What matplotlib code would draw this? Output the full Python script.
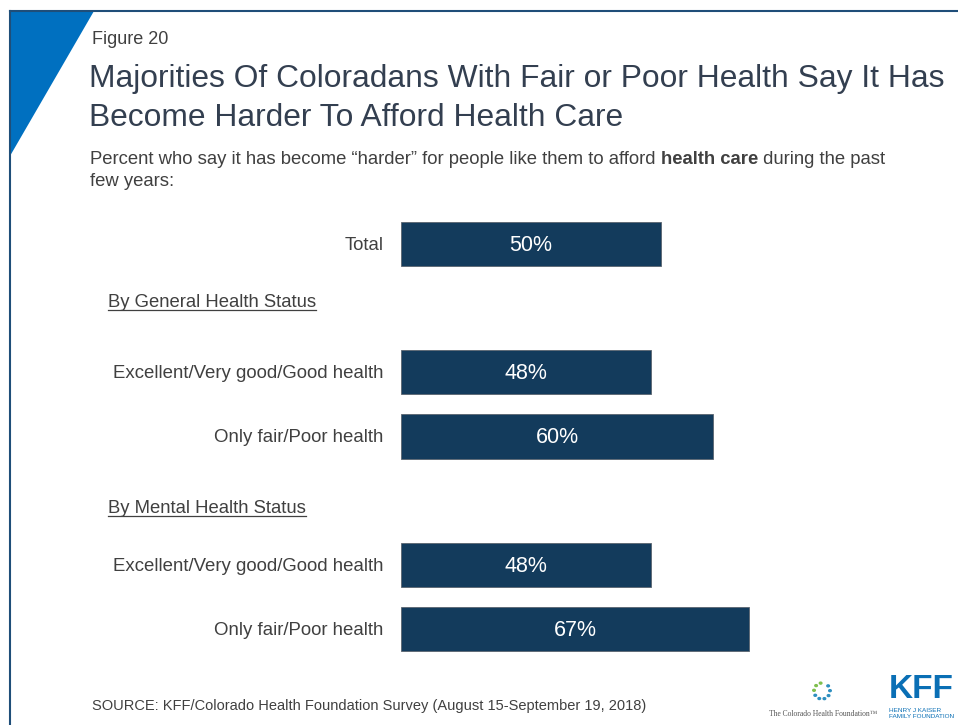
import matplotlib
matplotlib.use("Agg")
import numpy as np
import matplotlib.pyplot as plt
from matplotlib.patches import Polygon, Circle
from matplotlib.lines import Line2D

plt.rcParams['font.family'] = ['Liberation Sans', 'DejaVu Sans']

categories = ["Total", "Excellent/Very good/Good health", "Only fair/Poor health",
              "Excellent/Very good/Good health", "Only fair/Poor health"]
values = [50, 48, 60, 48, 67]
slots = [0, 2, 3, 5, 6]
group_headers = ["By General Health Status", "By Mental Health Status"]
header_slots = [0.89, 4.1]

W, H = 958, 725
fig = plt.figure(figsize=(W / 100, H / 100), dpi=100)
fig.patch.set_facecolor("white")
renderer = fig.canvas.get_renderer()

def fx(px):
    return px / W

def fy(py):
    return 1 - py / H

# frame lines and blue triangle
fig.add_artist(Line2D([fx(10), fx(958)], [fy(11), fy(11)], color="#1F4E79", lw=1.5))
fig.add_artist(Line2D([fx(10), fx(10)], [fy(11), fy(725)], color="#1F4E79", lw=1.5))
fig.add_artist(Polygon([[fx(10), fy(11)], [fx(94), fy(11)], [fx(10), fy(156)]],
                       closed=True, facecolor="#0070C0", edgecolor="none",
                       transform=fig.transFigure))

title_color = "#333F50"
text_color = "#404040"
fig.text(fx(92), fy(39), "Figure 20", fontsize=13, color=text_color, va="center")
fig.text(fx(89), fy(79), "Majorities Of Coloradans With Fair or Poor Health Say It Has",
         fontsize=22.9, color=title_color, va="center")
fig.text(fx(89), fy(118), "Become Harder To Afford Health Care",
         fontsize=22.9, color=title_color, va="center")

# subtitle with a bold run
sub_parts = [("Percent who say it has become \u201charder\u201d for people like them to afford ", "normal"),
             ("health care", "bold"),
             (" during the past", "normal")]
x0 = 90
for s, wgt in sub_parts:
    t = fig.text(fx(x0), fy(159), s, fontsize=13.3, color=text_color, va="center",
                 fontweight=wgt)
    bb = t.get_window_extent(renderer=renderer)
    x0 += bb.width
fig.text(fx(90), fy(181), "few years:", fontsize=13.3, color=text_color, va="center")

# axes: x 0..100 maps to pixels 401..921; slots -0.5..6.5 map to 212..661
ax = fig.add_axes([fx(401), fy(661), 520 / W, (661 - 212) / H])
ax.set_xlim(0, 100)
ax.set_ylim(6.5, -0.5)
ax.axis("off")
bar_color = "#133B5C"
ax.barh(slots, values, height=0.69, color=bar_color, edgecolor="#5a6570", linewidth=0.6)
for s, v, c in zip(slots, values, categories):
    ax.text(v / 2, s + 0.02, f"{v}%", color="white", fontsize=15.5, ha="center", va="center")
    ax.annotate(c, xy=(0, s + 0.02), xytext=(-12.5, 0), textcoords="offset points",
                ha="right", va="center", fontsize=13.4, color=text_color)

for h, s in zip(group_headers, header_slots):
    t = fig.text(fx(108), fy(245 + s * 64.2), h, fontsize=13.3, color=text_color,
                 va="center")
    bb = t.get_window_extent(renderer=renderer)
    y = bb.y0 + 1
    fig.add_artist(Line2D([bb.x0 / W, bb.x1 / W], [y / H, y / H],
                          color=text_color, lw=0.9))

fig.text(fx(92), fy(706), "SOURCE: KFF/Colorado Health Foundation Survey (August 15-September 19, 2018)",
         fontsize=10.5, color=text_color, va="center")

# logos (approximate)
cx, cy = 822, 691
for i, a in enumerate(np.linspace(100, 400, 9)):
    r = 8
    px = cx + r * np.cos(np.radians(a))
    py = cy - r * np.sin(np.radians(a))
    col = "#7fbf4d" if i < 3 else "#2e8fc0"
    fig.add_artist(Circle((fx(px), fy(py)), 1.3 / W, color=col,
                          transform=fig.transFigure))
fig.text(fx(823), fy(714), "The Colorado Health Foundation\u2122", fontsize=5.5, color="#555555",
         ha="center", va="center", family="Liberation Serif")
fig.text(fx(921), fy(689), "KFF", fontsize=24, fontweight="bold", color="#0A6FB5",
         ha="center", va="center")
fig.text(fx(889), fy(710), "HENRY J KAISER", fontsize=4.6, color="#0A6FB5", va="center")
fig.text(fx(889), fy(717), "FAMILY FOUNDATION", fontsize=4.6, color="#0A6FB5", va="center")

fig.savefig("out.png", dpi=100, facecolor="white")
